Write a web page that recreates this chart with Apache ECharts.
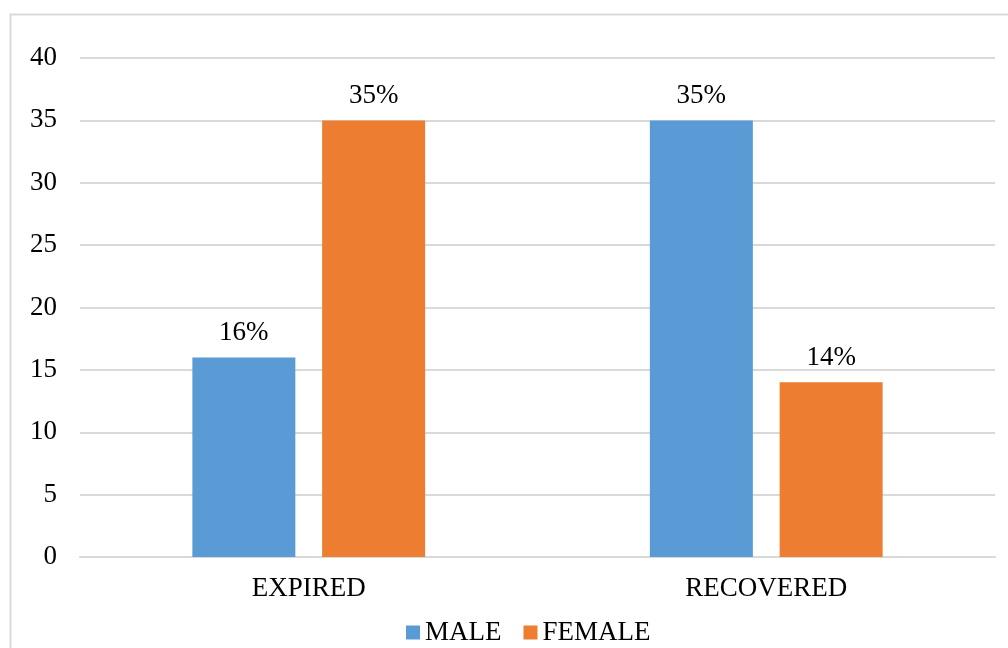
<!DOCTYPE html>
<html>
<head>
<meta charset="utf-8">
<script src="https://cdn.jsdelivr.net/npm/echarts@6/dist/echarts.min.js"></script>
<style>
html,body{margin:0;padding:0;background:#fff;}
#c{width:1008px;height:648px;}
</style>
</head>
<body>
<div id="c"></div>
<script>
const categories = ['EXPIRED', 'RECOVERED'];
const maleValues = [16, 35];
const femaleValues = [35, 14];
const seriesNames = ['MALE', 'FEMALE'];

const chart = echarts.init(document.getElementById('c'), null, {renderer: 'canvas'});
const font = '"Liberation Serif", "Times New Roman", serif';
const fs = 27;
chart.setOption({
  animation: false,
  textStyle: {fontFamily: font},
  graphic: [{
    type: 'rect',
    shape: {x: 10.5, y: 14.5, width: 1200, height: 800},
    style: {fill: 'none', stroke: '#d9d9d9', lineWidth: 2},
    silent: true
  }],
  grid: {left: 80, right: 13, top: 58, bottom: 91, containLabel: false},
  legend: {
    data: seriesNames,
    top: 614,
    left: 401,
    padding: [5, 5, 5, 5],
    itemWidth: 14,
    itemHeight: 14,
    itemGap: 22,
    icon: 'rect',
    textStyle: {fontFamily: font, fontSize: fs, color: '#000'}
  },
  xAxis: {
    type: 'category',
    data: categories,
    axisLine: {show: true, lineStyle: {color: '#d9d9d9', width: 2}},
    axisTick: {show: false},
    axisLabel: {color: '#000', fontSize: fs, fontFamily: font, margin: 18}
  },
  yAxis: {
    type: 'value',
    min: 0, max: 40, interval: 5,
    axisLine: {show: false},
    axisTick: {show: false},
    splitLine: {lineStyle: {color: '#d9d9d9', width: 2}},
    axisLabel: {color: '#000', fontSize: fs, fontFamily: font, margin: 23}
  },
  series: [
    {
      name: seriesNames[0], type: 'bar', data: maleValues,
      barWidth: 103, barGap: '26%',
      itemStyle: {color: '#5b9bd5'},
      label: {show: true, position: 'top', distance: 11, formatter: '{c}%', color: '#000', fontSize: fs, fontFamily: font}
    },
    {
      name: seriesNames[1], type: 'bar', data: femaleValues,
      barWidth: 103, barGap: '26%',
      itemStyle: {color: '#ed7d31'},
      label: {show: true, position: 'top', distance: 11, formatter: '{c}%', color: '#000', fontSize: fs, fontFamily: font}
    }
  ]
});
</script>
</body>
</html>
